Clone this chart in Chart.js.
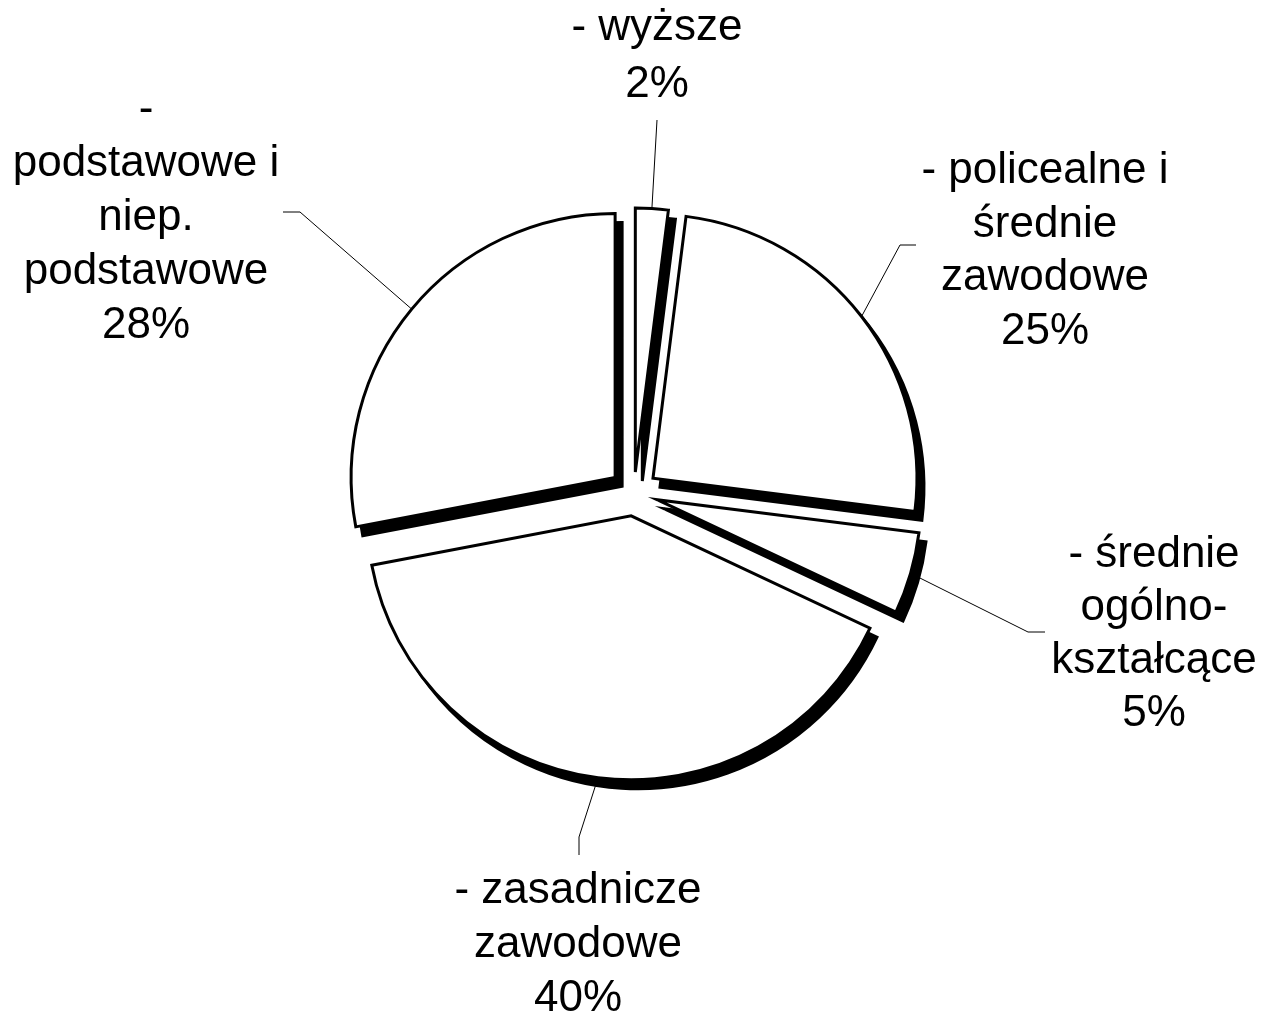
<!DOCTYPE html>
<html lang="pl">
<head>
<meta charset="utf-8">
<title>Wykształcenie</title>
<script src="https://cdn.jsdelivr.net/npm/chart.js@4.4.1/dist/chart.umd.min.js"></script>
<style>
  html, body { margin: 0; padding: 0; background: #fff; }
  #wrap { width: 1270px; height: 1016px; }
</style>
</head>
<body>
<div id="wrap"><canvas id="pie" width="1270" height="1016"></canvas></div>
<script>
(function() {
  "use strict";

  const categories = [
    ["- wyższe"],
    ["- policealne i", "średnie", "zawodowe"],
    ["- średnie", "ogólno-", "kształcące"],
    ["- zasadnicze", "zawodowe"],
    ["-", "podstawowe i", "niep.", "podstawowe"]
  ];
  const shares = [2, 25, 5, 40, 28];

  // layout only (px), kept apart from the data
  const FONT = '44px "Liberation Sans", Arial, sans-serif';
  const explode = [21, 24, 24, 23, 24.5];
  const shadow = { dx: 7, dy: 9 };
  const labelSpots = [
    { x: 657, y: 40, lh: 57, leader: [[657, 120]] },
    { x: 1045, y: 183, lh: 53.5, leader: [[900, 245], [916, 245]] },
    { x: 1154, y: 567, lh: 53, leader: [[1028, 632], [1045, 632]] },
    { x: 578, y: 903, lh: 54, leader: [[579, 837], [579, 855]] },
    { x: 146, y: 122, lh: 54, leader: [[300, 212], [283, 212]] }
  ];

  const total = shares.reduce((sum, v) => sum + v, 0);

  function sliceOrigin(arc, i) {
    const mid = (arc.startAngle + arc.endAngle) / 2;
    return { mid, x: arc.x + Math.cos(mid) * explode[i], y: arc.y + Math.sin(mid) * explode[i] };
  }

  const explodedSlices = {
    id: "explodedSlices",
    beforeDatasetDraw(chart, args) {
      const ctx = chart.ctx;
      ctx.save();
      ctx.fillStyle = "#000";
      ctx.strokeStyle = "#000";
      ctx.lineWidth = 3;
      ctx.lineJoin = "miter";
      args.meta.data.forEach((arc, i) => {
        const o = sliceOrigin(arc, i);
        const cx = o.x + shadow.dx, cy = o.y + shadow.dy;
        ctx.beginPath();
        ctx.moveTo(cx, cy);
        ctx.arc(cx, cy, arc.outerRadius, arc.startAngle, arc.endAngle);
        ctx.closePath();
        ctx.fill();
        ctx.stroke();
        if (!arc._shifted) {
          const baseDraw = Object.getPrototypeOf(arc).draw;
          arc.draw = function(c, area) {
            const p = sliceOrigin(this, i);
            c.save();
            c.translate(p.x - this.x, p.y - this.y);
            baseDraw.call(this, c, area);
            c.restore();
          };
          arc._shifted = true;
        }
      });
      ctx.restore();
    },
    afterDatasetDraw(chart, args) {
      const ctx = chart.ctx;
      ctx.save();
      args.meta.data.forEach((arc, i) => {
        const o = sliceOrigin(arc, i);
        const spot = labelSpots[i];
        ctx.beginPath();
        ctx.moveTo(o.x + Math.cos(o.mid) * arc.outerRadius, o.y + Math.sin(o.mid) * arc.outerRadius);
        spot.leader.forEach(p => ctx.lineTo(p[0], p[1]));
        ctx.lineWidth = 1;
        ctx.strokeStyle = "#000";
        ctx.stroke();
        const lines = categories[i].concat(Math.round(shares[i] / total * 100) + "%");
        ctx.font = FONT;
        ctx.fillStyle = "#000";
        ctx.textAlign = "center";
        ctx.textBaseline = "alphabetic";
        lines.forEach((text, k) => ctx.fillText(text, spot.x, spot.y + k * spot.lh));
      });
      ctx.restore();
    }
  };

  new Chart(document.getElementById("pie"), {
    type: "pie",
    data: {
      labels: categories,
      datasets: [{
        data: shares,
        backgroundColor: "#ffffff",
        borderColor: "#000000",
        borderWidth: 3,
        borderJoinStyle: "miter",
        offset: 0,
        hoverOffset: 0,
        radius: 264
      }]
    },
    options: {
      responsive: false,
      animation: false,
      events: [],
      layout: { padding: { left: 0, right: 2, top: 0, bottom: 30 } },
      plugins: { legend: { display: false }, tooltip: { enabled: false } }
    },
    plugins: [explodedSlices]
  });
})();
</script>
</body>
</html>
